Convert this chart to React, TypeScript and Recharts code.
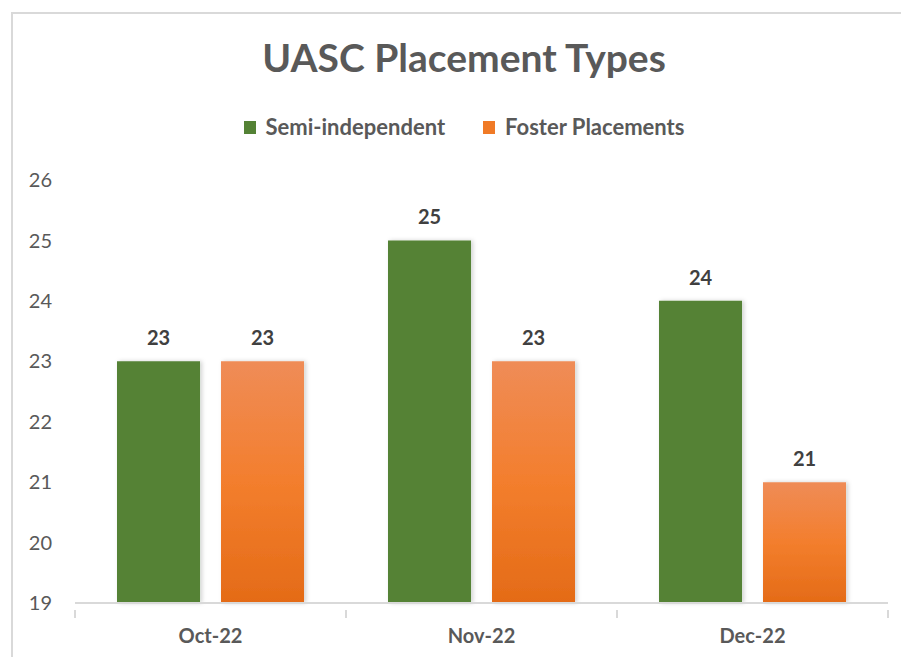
import React from 'react';
import { BarChart, Bar, XAxis, YAxis, LabelList, Legend } from 'recharts';

const months = ['Oct-22', 'Nov-22', 'Dec-22'];
const semiIndependent = [23, 25, 24];
const fosterPlacements = [23, 23, 21];
const yTicks = [19, 20, 21, 22, 23, 24, 25, 26];

const chartData = months.map((m, i) => ({
  month: m,
  semi: semiIndependent[i],
  foster: fosterPlacements[i],
}));

const W = 901;
const H = 657;
const M = { top: 158, right: 13, bottom: 24, left: 0 };
const Y_AXIS_W = 75;
const PLOT_W = W - M.left - M.right - Y_AXIS_W;
const FONT = 'Lato, "Open Sans", sans-serif';
const GREY = '#595959';
const AXIS_GREY = '#d9d9d9';

const MonthTick = (props: any) => {
  const { x, y, payload, index } = props;
  const half = PLOT_W / months.length / 2;
  return (
    <g>
      <line x1={x - half} x2={x - half} y1={y - 1} y2={y + 7} stroke={AXIS_GREY} strokeWidth={2} />
      {index === months.length - 1 && (
        <line x1={x + half} x2={x + half} y1={y - 1} y2={y + 7} stroke={AXIS_GREY} strokeWidth={2} />
      )}
      <text x={x} y={y + 32} textAnchor="middle" fill={GREY} fontSize={20} fontWeight={700} fontFamily={FONT}>
        {payload.value}
      </text>
    </g>
  );
};

const LegendContent = () => (
  <div style={{ display: 'flex', justifyContent: 'center', fontFamily: FONT, fontSize: 22, fontWeight: 700, color: GREY, height: 22, lineHeight: '22px' }}>
    <span style={{ display: 'flex', alignItems: 'center', marginRight: 38 }}>
      <span style={{ width: 12, height: 13, background: '#548235', marginRight: 10, display: 'inline-block' }} />
      Semi-independent
    </span>
    <span style={{ display: 'flex', alignItems: 'center' }}>
      <span style={{ width: 12, height: 13, background: '#F07A26', marginRight: 10, display: 'inline-block' }} />
      Foster Placements
    </span>
  </div>
);

export default function App() {
  return (
    <div style={{ position: 'absolute', left: 0, top: 0, width: W, height: H, background: '#fff', overflow: 'hidden' }}>
      <div
        style={{
          position: 'absolute',
          left: 11,
          top: 12,
          width: 900,
          height: 660,
          borderTop: `2px solid ${AXIS_GREY}`,
          borderLeft: `2px solid ${AXIS_GREY}`,
        }}
      />
      <div
        style={{
          position: 'absolute',
          left: 11,
          top: 34,
          width: 906,
          textAlign: 'center',
          fontFamily: FONT,
          fontSize: 39,
          fontWeight: 700,
          color: GREY,
        }}
      >
        UASC Placement Types
      </div>
      <div style={{ position: 'absolute', left: 0, top: 0 }}>
        <BarChart width={W} height={H} data={chartData} margin={M} barCategoryGap="15.5%" barGap={21}>
          <defs>
            <linearGradient id="fosterGrad" x1="0" y1="0" x2="0" y2="1">
              <stop offset="0%" stopColor="#EF8C57" />
              <stop offset="50%" stopColor="#F37E2D" />
              <stop offset="100%" stopColor="#E46B17" />
            </linearGradient>
            <filter id="barShadow" x="-10%" y="-10%" width="130%" height="120%">
              <feDropShadow dx="2" dy="0" stdDeviation="2" floodColor="#000" floodOpacity="0.18" />
            </filter>
          </defs>
          <XAxis
            dataKey="month"
            axisLine={{ stroke: AXIS_GREY, strokeWidth: 2 }}
            tickLine={false}
            tick={<MonthTick />}
            interval={0}
          />
          <YAxis
            domain={[19, 26]}
            ticks={yTicks}
            width={Y_AXIS_W}
            axisLine={false}
            tickLine={false}
            tickSize={0}
            tickMargin={23}
            tick={{ fill: GREY, fontSize: 20, fontFamily: FONT }}
          />
          <Legend
            verticalAlign="top"
            content={<LegendContent />}
            wrapperStyle={{ top: 116, left: 11, width: 906 }}
          />
          <Bar dataKey="semi" name="Semi-independent" fill="#548235" filter="url(#barShadow)" isAnimationActive={false}>
            <LabelList dataKey="semi" position="top" offset={16} fill="#404040" fontSize={20} fontWeight={700} fontFamily={FONT} />
          </Bar>
          <Bar dataKey="foster" name="Foster Placements" fill="url(#fosterGrad)" filter="url(#barShadow)" isAnimationActive={false}>
            <LabelList dataKey="foster" position="top" offset={16} fill="#404040" fontSize={20} fontWeight={700} fontFamily={FONT} />
          </Bar>
        </BarChart>
      </div>
    </div>
  );
}
